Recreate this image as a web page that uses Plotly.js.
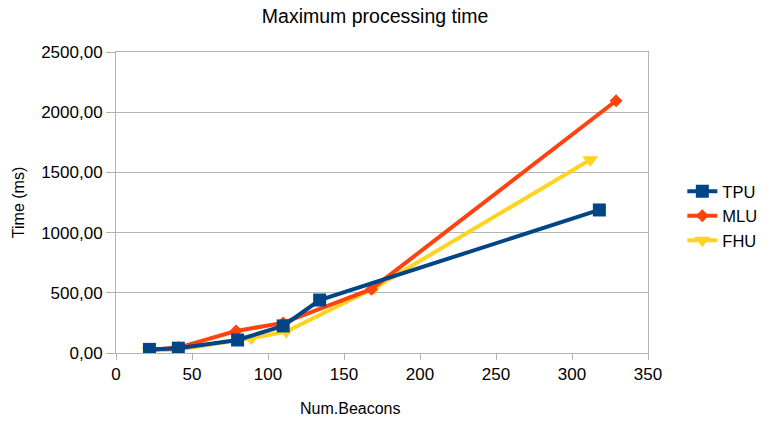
<!DOCTYPE html>
<html>
<head>
<meta charset="utf-8">
<script src="https://cdn.plot.ly/plotly-3.0.1.min.js"></script>
<style>html,body{margin:0;padding:0;background:#fff;}#chart{width:771px;height:424px;}</style>
</head>
<body>
<div id="chart"></div>
<script>
const seriesNames = ["TPU", "MLU", "FHU"];
const tpuX = [22, 41, 80, 110, 134, 318];
const tpuY = [30, 40, 108, 225, 440, 1188];
const mluX = [22, 41, 79, 110, 168, 329];
const mluY = [25, 45, 183, 250, 530, 2095];
const fhuX = [22, 41, 89, 112, 170, 312];
const fhuY = [20, 30, 122, 178, 540, 1605];
const colors = ["#004586", "#ff420e", "#ffd320"];
const symbols = ["square", "diamond", "triangle-down"];
const markerSizes = [13, 10, 14];

const xs = [tpuX, mluX, fhuX];
const ys = [tpuY, mluY, fhuY];
const traces = [2, 1, 0].map(i => ({
  x: xs[i], y: ys[i], name: seriesNames[i], type: "scatter", mode: "lines+markers",
  line: {color: colors[i], width: 4},
  marker: {symbol: symbols[i], color: colors[i], size: markerSizes[i]},
  legendrank: i + 1
}));

const gridColor = "#b3b3b3";
const layout = {
  width: 771, height: 424,
  margin: {l: 116, r: 123, t: 52, b: 71},
  paper_bgcolor: "#fff", plot_bgcolor: "#fff",
  separators: ",.",
  font: {family: "Liberation Sans, Arial, sans-serif", size: 17, color: "#000"},
  title: {text: "Maximum processing time", xref: "container", x: 0.4865, xanchor: "center",
          yref: "container", y: 0.962, yanchor: "middle", font: {size: 19.5}},
  xaxis: {
    range: [0, 350], dtick: 50, tick0: 0, automargin: false,
    showgrid: false, zeroline: false,
    showline: true, linecolor: gridColor, linewidth: 1, mirror: true,
    ticks: "outside", ticklen: 6, tickcolor: gridColor,
    tickfont: {size: 17}
  },
  yaxis: {
    range: [0, 2500], dtick: 500, tick0: 0, tickformat: ".2f", automargin: false,
    showgrid: true, gridcolor: gridColor, gridwidth: 1, zeroline: false,
    showline: true, linecolor: gridColor, linewidth: 1, mirror: true,
    ticks: "outside", ticklen: 9, tickcolor: gridColor,
    tickfont: {size: 17},
    title: {text: "Time (ms)", font: {size: 16}, standoff: 12}
  },
  annotations: [{
    text: "Num.Beacons", xref: "paper", yref: "paper", x: (350 - 116) / 532, y: -(409 - 353) / 301,
    xanchor: "center", yanchor: "middle", showarrow: false, font: {size: 16}
  }],
  legend: {xref: "container", x: 0.885, xanchor: "left", yref: "container", y: 1 - 216 / 424, yanchor: "middle",
    traceorder: "normal", font: {size: 16.5}, tracegroupgap: 0, bgcolor: "rgba(0,0,0,0)"},
  showlegend: true
};
Plotly.newPlot("chart", traces, layout, {displayModeBar: false, staticPlot: true});
</script>
</body>
</html>
